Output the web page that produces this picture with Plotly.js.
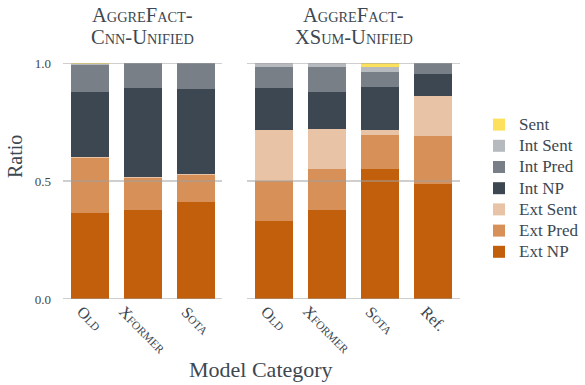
<!DOCTYPE html>
<html><head><meta charset="utf-8">
<script src="https://cdn.plot.ly/plotly-3.0.1.min.js"></script>
<style>html,body{margin:0;padding:0;background:#fff}</style>
</head><body>
<div id="chart" style="width:585px;height:385px"></div>
<script>
// ---- data ----
const seriesNames = ['Ext NP','Ext Pred','Ext Sent','Int NP','Int Pred','Int Sent','Sent'];
const seriesColors = ['#c15f0c','#d69058','#e8c3a5','#3d4751','#787f86','#b6b9be','#fde15c'];

const cnnCategories = ['Old','Xformer','Sota'];
const xsumCategories = ['Old','Xformer','Sota','Ref.'];

// CNN panel (segment heights)
const cnnExtNP   = [0.364, 0.377, 0.411];
const cnnExtPred = [0.235, 0.137, 0.116];
const cnnExtSent = [0.001, 0.003, 0.004];
const cnnIntNP   = [0.279, 0.377, 0.359];
const cnnIntPred = [0.111, 0.106, 0.110];
const cnnIntSent = [0.006, 0.000, 0.000];
const cnnSent    = [0.004, 0.000, 0.000];

// XSum panel (segment heights)
const xsumExtNP   = [0.330, 0.377, 0.551, 0.489];
const xsumExtPred = [0.170, 0.174, 0.144, 0.201];
const xsumExtSent = [0.218, 0.169, 0.022, 0.170];
const xsumIntNP   = [0.176, 0.157, 0.181, 0.095];
const xsumIntPred = [0.090, 0.107, 0.066, 0.045];
const xsumIntSent = [0.016, 0.016, 0.019, 0.000];
const xsumSent    = [0.000, 0.000, 0.017, 0.000];

const yTickVals = [0, 0.5, 1.0];
const panelTitles = [['AggreFact-','Cnn-Unified'],['AggreFact-','XSum-Unified']];

// ---- helpers ----
const TXT = '#3d4751';
const FONT = '"Liberation Serif", "DejaVu Serif", serif';
function smallCaps(s, small) {
  let out = '';
  for (const ch of s) {
    if (ch >= 'a' && ch <= 'z') out += '<span style="font-size:' + small + 'px">' + ch.toUpperCase() + '</span>';
    else out += ch;
  }
  return out;
}
function tickLabel(c) { return c === 'Ref.' ? c : smallCaps(c, 11.5); }

const cnnSeries = [cnnExtNP, cnnExtPred, cnnExtSent, cnnIntNP, cnnIntPred, cnnIntSent, cnnSent];
const xsumSeries = [xsumExtNP, xsumExtPred, xsumExtSent, xsumIntNP, xsumIntPred, xsumIntSent, xsumSent];

const traces = [];
seriesNames.forEach((name, i) => {
  traces.push({
    type: 'bar', name: '<span style="font-size:17px">' + name + '</span>', x: cnnCategories, y: cnnSeries[i],
    xaxis: 'x', yaxis: 'y', marker: {color: seriesColors[i], line: {width: 0}},
    legendgroup: name, showlegend: true, hoverinfo: 'skip'
  });
  traces.push({
    type: 'bar', name: name, x: xsumCategories, y: xsumSeries[i],
    xaxis: 'x2', yaxis: 'y2', marker: {color: seriesColors[i], line: {width: 0}},
    legendgroup: name, showlegend: false, hoverinfo: 'skip'
  });
});

const W = 585, H = 385;
const mL = 63, mR = 125, mT = 63, mB = 86;
const pw = W - mL - mR, ph = H - mT - mB;
const px2x = p => (p - mL) / pw;
const px2y = p => (H - mB - p) / ph;

const leftDomain = [0, px2x(222)];
const rightDomain = [px2x(247), 1];

const shapes = [];
yTickVals.forEach(v => {
  ['x domain', 'x2 domain'].forEach((xr, k) => {
    shapes.push({type: 'line', xref: xr, yref: k === 0 ? 'y' : 'y2', x0: 0, x1: 1, y0: v, y1: v,
      line: {color: 'rgba(160,160,160,0.5)', width: 2}, layer: 'above'});
  });
});

const annotations = [];
[leftDomain, rightDomain].forEach((d, k) => {
  const cx = (d[0] + d[1]) / 2;
  annotations.push({xref: 'paper', yref: 'paper', x: cx, y: px2y(15), yanchor: 'middle', xanchor: 'center',
    showarrow: false, text: smallCaps(panelTitles[k][0], 14.3), font: {family: FONT, size: 20.5, color: TXT}});
  annotations.push({xref: 'paper', yref: 'paper', x: cx, y: px2y(37.5), yanchor: 'middle', xanchor: 'center',
    showarrow: false, text: smallCaps(panelTitles[k][1], 14.3), font: {family: FONT, size: 20.5, color: TXT}});
});
// category tick labels, centred under each bar (rotated)
[[cnnCategories, 'x'], [xsumCategories, 'x2']].forEach(([cats, xr]) => {
  cats.forEach(c => {
    annotations.push({xref: xr, yref: 'paper', x: c, y: px2y(300), xanchor: 'center', yanchor: 'top',
      textangle: 45, showarrow: false, text: tickLabel(c), font: {family: FONT, size: 16, color: TXT}});
  });
});
annotations.push({xref: 'paper', yref: 'paper', x: px2x(15), y: px2y(157), textangle: -90,
  xanchor: 'center', yanchor: 'middle', showarrow: false, text: 'Ratio',
  font: {family: FONT, size: 20, color: TXT}});
annotations.push({xref: 'paper', yref: 'paper', x: px2x(261), y: px2y(369),
  xanchor: 'center', yanchor: 'middle', showarrow: false, text: 'Model Category',
  font: {family: FONT, size: 22, color: TXT}});

const xCommon = {
  type: 'category', showgrid: false, zeroline: false, showline: false, ticks: '',
  showticklabels: false, fixedrange: true
};
const yCommon = {
  range: [0, 1], showgrid: false, zeroline: false, showline: false, ticks: '',
  tickvals: yTickVals, tickformat: '.1f', fixedrange: true
};

const layout = {
  width: W, height: H,
  margin: {l: mL, r: mR, t: mT, b: mB, pad: 0, autoexpand: false},
  paper_bgcolor: '#ffffff', plot_bgcolor: '#ffffff',
  barmode: 'stack', bargap: 0.283,
  font: {family: FONT, color: TXT},
  xaxis: Object.assign({}, xCommon, {domain: leftDomain, anchor: 'y', categoryarray: cnnCategories}),
  xaxis2: Object.assign({}, xCommon, {domain: rightDomain, anchor: 'y2', categoryarray: xsumCategories}),
  yaxis: Object.assign({}, yCommon, {anchor: 'x', showticklabels: true,
    tickfont: {family: FONT, size: 13, color: '#444'}, ticklabelstandoff: 11}),
  yaxis2: Object.assign({}, yCommon, {anchor: 'x2', matches: 'y', showticklabels: false}),
  legend: {x: px2x(479), y: px2y(109), xanchor: 'left', yanchor: 'top',
    traceorder: 'reversed', font: {family: FONT, size: 14, color: TXT},
    bgcolor: 'rgba(0,0,0,0)', itemclick: false, itemdoubleclick: false},
  shapes: shapes,
  annotations: annotations
};

Plotly.newPlot('chart', traces, layout, {displayModeBar: false, staticPlot: true});
</script>
</body></html>
